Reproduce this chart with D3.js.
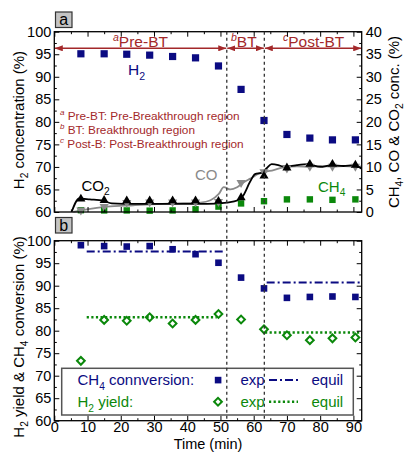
<!DOCTYPE html>
<html>
<head>
<meta charset="utf-8">
<script src="https://cdn.jsdelivr.net/npm/d3@7"></script>
<style>
  body { margin: 0; background: #fff; }
  svg { display: block; font-family: "Liberation Sans", Arial, sans-serif; }
</style>
</head>
<body>
<div id="chart"></div>
<script>
// sample times (min)
var times = [8, 15, 21.8, 28.7, 35.6, 42.5, 49.4, 56.2, 63.1, 70, 76.9, 83.7, 90.6];

// panel a - outlet concentrations
var h2Conc  = [95.1, 95.1, 95.0, 94.8, 94.5, 94.2, 92.4, 87.2, 80.3, 77.2, 76.4, 76.0, 76.0];
var ch4Conc = [0.4, 0.35, 0.35, 0.3, 0.35, 0.6, 1.2, 1.9, 2.4, 2.8, 2.8, 2.7, 2.8];
var coConc  = [0.4, 1.2, 2.1, 2.2, 2.2, 2.2, 2.3, 6.5, 8.9, 9.7, 10.1, 10.1, 10.1];
var co2Conc = [2.9, 2.6, 2.5, 2.5, 2.5, 2.5, 2.4, 3.2, 8.0, 9.8, 10.6, 10.6, 10.4];

// fitted curves drawn through the CO and CO2 data [time, %]
var coCurve = [[5.7, 0], [9.8, 0.6], [15.8, 1.2], [23.8, 1.5], [35.8, 1.9], [44, 2.1], [47, 2.6],
  [49.5, 4.0], [51, 5.5], [53, 5.0], [55, 5.5], [57, 6.6], [59, 7.4], [61.5, 8.5], [63.5, 8.9],
  [66, 9.3], [69, 9.9], [73, 10.1], [77, 10.0], [80, 10.2], [84, 10.0], [87, 10.2], [90.5, 10.0], [92.5, 10.1]];
var co2Curve = [[5.2, 0], [7.5, 3.0], [10.7, 2.8], [14.7, 2.5], [17.3, 1.9], [20.8, 1.8], [30, 1.8],
  [40, 1.8], [45.9, 1.8], [51.9, 2.1], [55.3, 2.6], [56.8, 3.6], [58.9, 6.7], [60.4, 8.4], [62.4, 8.7],
  [63.9, 9.7], [65.4, 10.6], [67.4, 10.4], [68.8, 10.1], [71, 10.2], [73, 10.4], [76.5, 10.6], [80, 10.0],
  [83.5, 10.4], [87, 10.2], [90, 10.4], [92.5, 9.6]];

// panel b - conversion and yield
var ch4Conv = [99.0, 98.8, 98.7, 98.8, 98.1, 97.0, 95.1, 91.8, 89.4, 87.3, 87.5, 87.6, 87.5];
var h2Yield = [73.3, 82.4, 82.2, 83.0, 81.6, 82.4, 83.7, 82.5, 80.3, 79.0, 77.9, 78.3, 78.5];
// equilibrium segments [start, end, value]
var ch4Equil = [[9.75, 51.4, 97.6], [63.9, 92.5, 90.7]];
var h2Equil  = [[9.75, 48.9, 83.0], [63.4, 92.5, 79.6]];

// breakthrough boundaries (min)
var breaks = [51.9, 63.2];
var regionLabels = [["a", "Pre-BT"], ["b", "BT"], ["c", "Post-BT"]];
var regionNotes = [["a", " Pre-BT: Pre-Breakthrough region"], ["b", " BT: Breakthrough region"], ["c", " Post-B: Post-Breakthrough region"]];

var navy = "#0b0b82", green = "#0b880b", grey = "#8a8a8a", red = "#a3282a";
var W = 406, H = 452;

var svg = d3.select("#chart").append("svg").attr("width", W).attr("height", H);

var x = d3.scaleLinear().domain([0, 92.5]).range([54.3, 361.7]);
var yA = d3.scaleLinear().domain([60, 100]).range([212, 31.7]);
var yA2 = d3.scaleLinear().domain([0, 40]).range([212, 31.7]);
var yB = d3.scaleLinear().domain([60, 100]).range([420.7, 240.7]);

// text with sub/superscripts
function rich(sel, parts, fs) {
  var shift = 0;
  parts.forEach(function(p) {
    var target = p[1] === "sub" ? fs * 0.3 : p[1] === "sup" ? -fs * 0.4 : 0;
    var t = sel.append("tspan").text(p[0])
      .attr("font-size", p[1] ? fs * 0.68 : fs)
      .attr("dy", target - shift);
    if (p[1] === "sup") t.attr("font-style", "italic");
    shift = target;
  });
  return sel;
}

function styleAxis(g, fs) {
  g.select(".domain").remove();
  g.selectAll("line").attr("stroke", "#000").attr("stroke-width", 1);
  g.selectAll("text").attr("font-size", fs).attr("fill", "#000")
    .attr("font-family", "Liberation Sans, Arial, sans-serif");
}

function panelAxes(y, yRight, showX) {
  var x0 = x.range()[0], x1 = x.range()[1], yb = y.range()[0], yt = y.range()[1];
  // left
  svg.append("g").attr("transform", "translate(" + x0 + ",0)")
    .call(d3.axisLeft(y).tickValues(d3.range(60, 101, 5)).tickSize(-5).tickPadding(3))
    .call(function(g) { styleAxis(g, 14.5); });
  svg.append("g").attr("transform", "translate(" + x0 + ",0)")
    .call(d3.axisLeft(y).tickValues(d3.range(62.5, 100, 5)).tickSize(-2.5).tickFormat(""))
    .call(function(g) { styleAxis(g, 14.5); });
  // right
  var yr = yRight || y;
  var rt = yRight ? d3.range(0, 41, 5) : d3.range(60, 101, 5);
  var rm = yRight ? d3.range(2.5, 40, 5) : d3.range(62.5, 100, 5);
  svg.append("g").attr("transform", "translate(" + x1 + ",0)")
    .call(d3.axisRight(yr).tickValues(rt).tickSize(-5).tickPadding(4).tickFormat(yRight ? d3.format("d") : ""))
    .call(function(g) { styleAxis(g, 14.5); });
  svg.append("g").attr("transform", "translate(" + x1 + ",0)")
    .call(d3.axisRight(yr).tickValues(rm).tickSize(-2.5).tickFormat(""))
    .call(function(g) { styleAxis(g, 14.5); });
  // top
  svg.append("g").attr("transform", "translate(0," + yt + ")")
    .call(d3.axisTop(x).tickValues(d3.range(0, 92, 10)).tickSize(-5).tickFormat(""))
    .call(function(g) { styleAxis(g, 14.5); });
  svg.append("g").attr("transform", "translate(0," + yt + ")")
    .call(d3.axisTop(x).tickValues(d3.range(5, 92, 10)).tickSize(-2.5).tickFormat(""))
    .call(function(g) { styleAxis(g, 14.5); });
  // bottom
  svg.append("g").attr("transform", "translate(0," + yb + ")")
    .call(d3.axisBottom(x).tickValues(d3.range(0, 92, 10)).tickSize(-5).tickPadding(1.5).tickFormat(showX ? d3.format("d") : ""))
    .call(function(g) { styleAxis(g, 14.5); });
  svg.append("g").attr("transform", "translate(0," + yb + ")")
    .call(d3.axisBottom(x).tickValues(d3.range(5, 92, 10)).tickSize(-2.5).tickFormat(""))
    .call(function(g) { styleAxis(g, 14.5); });
  // frame
  svg.append("rect").attr("x", x0).attr("y", yt).attr("width", x1 - x0).attr("height", yb - yt)
    .attr("fill", "none").attr("stroke", "#000").attr("stroke-width", 1.3);
}

function panelTag(letter, top) {
  svg.append("rect").attr("x", 55.5).attr("y", top).attr("width", 16.5).attr("height", 15.5)
    .attr("fill", "#c4c4c4").attr("stroke", "#333").attr("stroke-width", 1.2);
  svg.append("text").attr("x", 63.7).attr("y", top + 13).attr("text-anchor", "middle")
    .attr("font-size", 16).text(letter);
}

// ---------- panel a ----------
var gA = svg.append("g");

// region arrows
var defs = svg.append("defs");
defs.append("marker").attr("id", "arr").attr("viewBox", "0 0 8 6").attr("refX", 8).attr("refY", 3)
  .attr("markerWidth", 8).attr("markerHeight", 6).attr("markerUnits", "userSpaceOnUse")
  .attr("orient", "auto-start-reverse")
  .append("path").attr("d", "M0,0L8,3L0,6Z").attr("fill", red);

var edges = [x.domain()[0]].concat(breaks, [x.domain()[1]]);
var arrowY = 48.3;
for (var i = 0; i < 3; i++) {
  gA.append("line").attr("x1", x(edges[i]) + 0.5).attr("x2", x(edges[i + 1]) - 0.5)
    .attr("y1", arrowY).attr("y2", arrowY).attr("stroke", red).attr("stroke-width", 1.5)
    .attr("marker-start", "url(#arr)").attr("marker-end", "url(#arr)");
}
var labelX = [113, 231, 283];
regionLabels.forEach(function(r, i) {
  rich(gA.append("text").attr("x", labelX[i]).attr("y", 47).attr("fill", red), [[r[0], "sup"], [r[1], ""]], 15.5);
});
regionNotes.forEach(function(r, i) {
  rich(gA.append("text").attr("x", 60).attr("y", 119.5 + i * 14.2).attr("fill", red), [[r[0], "sup"], [r[1], ""]], 11.8);
});

// CO and CO2 curves
var line = d3.line().x(function(d) { return x(d[0]); }).y(function(d) { return yA2(d[1]); }).curve(d3.curveMonotoneX);
gA.append("path").datum(coCurve).attr("d", line).attr("fill", "none").attr("stroke", grey).attr("stroke-width", 1.8);
gA.append("path").datum(co2Curve).attr("d", line).attr("fill", "none").attr("stroke", "#000").attr("stroke-width", 1.8);

// CH4 squares
gA.selectAll(".ch4").data(times).enter().append("rect")
  .attr("x", function(d) { return x(d) - 3.2; })
  .attr("y", function(d, i) { return yA2(ch4Conc[i]) - 3.2; })
  .attr("width", 6.4).attr("height", 6.4).attr("fill", green);
// CO inverted triangles
var tri = d3.symbol().type(d3.symbolTriangle).size(36);
gA.selectAll(".co").data(times).enter().append("path")
  .attr("d", tri)
  .attr("transform", function(d, i) { return "translate(" + x(d) + "," + yA2(coConc[i]) + ") rotate(180)"; })
  .attr("fill", grey);
// CO2 triangles
gA.selectAll(".co2").data(times).enter().append("path")
  .attr("d", tri)
  .attr("transform", function(d, i) { return "translate(" + x(d) + "," + yA2(co2Conc[i]) + ")"; })
  .attr("fill", "#000");
// H2 squares
gA.selectAll(".h2").data(times).enter().append("rect")
  .attr("x", function(d) { return x(d) - 3.6; })
  .attr("y", function(d, i) { return yA(h2Conc[i]) - 3.6; })
  .attr("width", 7.2).attr("height", 7.2).attr("fill", navy);

rich(gA.append("text").attr("x", 128).attr("y", 75).attr("fill", navy), [["H", ""], ["2", "sub"]], 15.5);
rich(gA.append("text").attr("x", 81.5).attr("y", 190.5).attr("fill", "#000"), [["CO", ""], ["2", "sub"]], 15);
rich(gA.append("text").attr("x", 195).attr("y", 180).attr("fill", grey), [["CO", ""]], 15);
rich(gA.append("text").attr("x", 318).attr("y", 191.5).attr("fill", green), [["CH", ""], ["4", "sub"]], 15);

panelAxes(yA, yA2, false);
panelTag("a", 12);

// ---------- panel b ----------
var gB = svg.append("g");
var eqLine = function(g, segs, color, dash, w) {
  segs.forEach(function(s) {
    g.append("line").attr("x1", x(s[0])).attr("x2", x(s[1])).attr("y1", yB(s[2])).attr("y2", yB(s[2]))
      .attr("stroke", color).attr("stroke-width", w).attr("stroke-dasharray", dash);
  });
};
eqLine(gB, ch4Equil, navy, "8,3,2,3", 2);
eqLine(gB, h2Equil, green, "2.2,2.4", 2.6);

gB.selectAll(".conv").data(times).enter().append("rect")
  .attr("x", function(d) { return x(d) - 3.3; })
  .attr("y", function(d, i) { return yB(ch4Conv[i]) - 3.3; })
  .attr("width", 6.6).attr("height", 6.6).attr("fill", navy);
var diamond = d3.symbol().type(d3.symbolSquare).size(30);
gB.selectAll(".yield").data(times).enter().append("path")
  .attr("d", diamond)
  .attr("transform", function(d, i) { return "translate(" + x(d) + "," + yB(h2Yield[i]) + ") rotate(45)"; })
  .attr("fill", "none").attr("stroke", green).attr("stroke-width", 2);

panelAxes(yB, null, true);
panelTag("b", 217.5);

// legend
var lg = svg.append("g");
lg.append("rect").attr("x", 61.7).attr("y", 368.3).attr("width", 291.6).attr("height", 46.7)
  .attr("fill", "#fff").attr("stroke", "#555").attr("stroke-width", 1.5);
rich(lg.append("text").attr("x", 77.5).attr("y", 385.3).attr("fill", navy), [["CH", ""], ["4", "sub"], [" connversion:", ""]], 15);
lg.append("rect").attr("x", 214.8).attr("y", 376.8).attr("width", 6.6).attr("height", 6.6).attr("fill", navy);
lg.append("text").attr("x", 240.5).attr("y", 385.3).attr("fill", navy).attr("font-size", 15).text("exp");
lg.append("line").attr("x1", 269).attr("x2", 298).attr("y1", 380).attr("y2", 380)
  .attr("stroke", navy).attr("stroke-width", 2).attr("stroke-dasharray", "8,3,2,3");
lg.append("text").attr("x", 311.5).attr("y", 385.3).attr("fill", navy).attr("font-size", 15).text("equil");

rich(lg.append("text").attr("x", 77.5).attr("y", 407).attr("fill", green), [["H", ""], ["2", "sub"], [" yield:", ""]], 15);
lg.append("path").attr("d", diamond).attr("transform", "translate(218,401.7) rotate(45)")
  .attr("fill", "none").attr("stroke", green).attr("stroke-width", 2);
lg.append("text").attr("x", 240.5).attr("y", 407).attr("fill", green).attr("font-size", 15).text("exp");
lg.append("line").attr("x1", 269).attr("x2", 298).attr("y1", 401.7).attr("y2", 401.7)
  .attr("stroke", green).attr("stroke-width", 2.6).attr("stroke-dasharray", "2.2,2.4");
lg.append("text").attr("x", 311.5).attr("y", 407).attr("fill", green).attr("font-size", 15).text("equil");

// breakthrough boundaries across both panels
breaks.forEach(function(b) {
  svg.append("line").attr("x1", x(b)).attr("x2", x(b)).attr("y1", yA.range()[1]).attr("y2", yB.range()[0])
    .attr("stroke", "#333").attr("stroke-width", 1.3).attr("stroke-dasharray", "3,3");
});

// axis titles
rich(svg.append("text").attr("text-anchor", "middle").attr("transform", "translate(23.5,120) rotate(-90)"),
  [["H", ""], ["2", "sub"], [" concentration (%)", ""]], 15);
rich(svg.append("text").attr("text-anchor", "middle").attr("transform", "translate(398.5,122) rotate(-90)"),
  [["CH", ""], ["4", "sub"], [", CO & CO", ""], ["2", "sub"], [" conc. (%)", ""]], 15);
rich(svg.append("text").attr("text-anchor", "middle").attr("transform", "translate(23.5,337) rotate(-90)"),
  [["H", ""], ["2", "sub"], [" yield & CH", ""], ["4", "sub"], [" conversion (%)", ""]], 15);
svg.append("text").attr("x", 208).attr("y", 449).attr("text-anchor", "middle").attr("font-size", 14.5).text("Time (min)");
</script>
</body>
</html>
